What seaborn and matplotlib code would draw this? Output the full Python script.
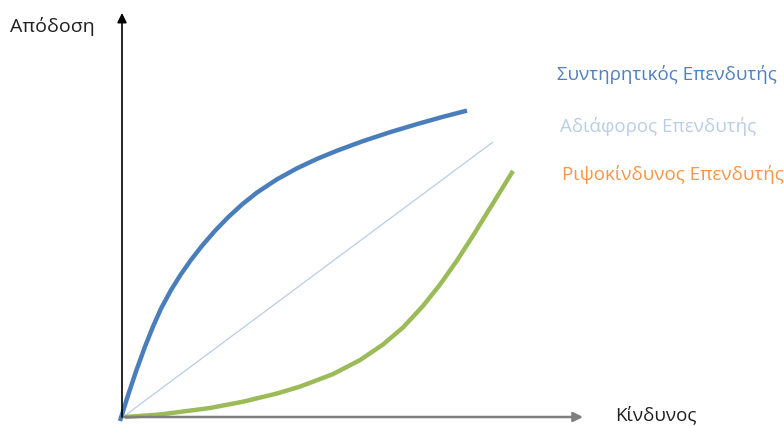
import pandas as pd
import matplotlib.pyplot as plt
import seaborn as sns

# ── Data (risk, return; origin at the axes corner) ──
blue_risk = [-2, 6, 14, 23, 31, 39, 49, 59, 69, 80, 93, 106, 120, 135, 155,
             175, 195, 215, 241, 268, 295, 321, 345]
blue_ret = [-4, 21.6, 45.6, 70.4, 90.4, 108.4, 126.9, 142.9, 157.1, 171.2, 186.2,
            199.6, 212.5, 224.5, 237.7, 248.7, 258.1, 266.3, 275.9, 284.8, 292.9,
            300.2, 306.4]

neutral_risk = [1, 371]
neutral_ret = [0, 275]

green_risk = [3, 38, 88, 121, 155, 178, 211, 238, 261, 281, 301, 318, 335, 351, 368, 391]
green_ret = [0, 2.5, 9, 15.3, 23.5, 30.4, 42.9, 56.9, 72.5, 89.5, 111.1, 132.4,
             156.5, 181.3, 208.8, 246.1]

labels = ['Συντηρητικός Επενδυτής', 'Αδιάφορος Επενδυτής', 'Ριψοκίνδυνος Επενδυτής']
line_colors = ['#4a7ebb', '#b9cde5', '#9bbb59']
text_colors = ['#4f81bd', '#b9cde5', '#f79646']

df = pd.concat([
    pd.DataFrame({'risk': blue_risk, 'ret': blue_ret, 'investor': labels[0]}),
    pd.DataFrame({'risk': neutral_risk, 'ret': neutral_ret, 'investor': labels[1]}),
    pd.DataFrame({'risk': green_risk, 'ret': green_ret, 'investor': labels[2]}),
])

sns.set_style('white')
plt.rcParams['font.family'] = ['Open Sans', 'DejaVu Sans']

fig = plt.figure(figsize=(7.84, 4.27), dpi=100)
ax = fig.add_axes([0, 0, 1, 1])

# ── Axes with arrows ─────────────────────────────────────────
ax.annotate('', xy=(461, 0), xytext=(0, 0),
            arrowprops=dict(arrowstyle='-|>', color='#7f7f7f', lw=1.8,
                            mutation_scale=14, shrinkA=0, shrinkB=0))
ax.annotate('', xy=(0, 404), xytext=(0, 0),
            arrowprops=dict(arrowstyle='-|>', color='#000000', lw=1.2,
                            mutation_scale=14, shrinkA=0, shrinkB=0))

# ── Curves ───────────────────────────────────────────────────
widths = {labels[0]: 3.2, labels[1]: 0.9, labels[2]: 3.2}
for lab, col in zip(labels, line_colors):
    sns.lineplot(data=df[df['investor'] == lab], x='risk', y='ret',
                 sort=False, estimator=None, color=col,
                 linewidth=widths[lab], solid_capstyle='butt',
                 solid_joinstyle='round', ax=ax)

# ── Text ─────────────────────────────────────────────────────
ax.text(-112, 391, 'Απόδοση', fontsize=14, color='#1f1f1f', va='center', ha='left')
ax.text(493, 3, 'Κίνδυνος', fontsize=13.5, color='#1f1f1f', va='center', ha='left')
text_pos = [(435, 343), (438, 292), (440, 243)]
for lab, col, (tx, ty) in zip(labels, text_colors, text_pos):
    ax.text(tx, ty, lab, fontsize=13.5, color=col, va='center', ha='left')

ax.set_xlim(-122, 662)
ax.set_ylim(-9, 418)
ax.set_xlabel('')
ax.set_ylabel('')
ax.axis('off')

plt.savefig('out.png', dpi=100)
